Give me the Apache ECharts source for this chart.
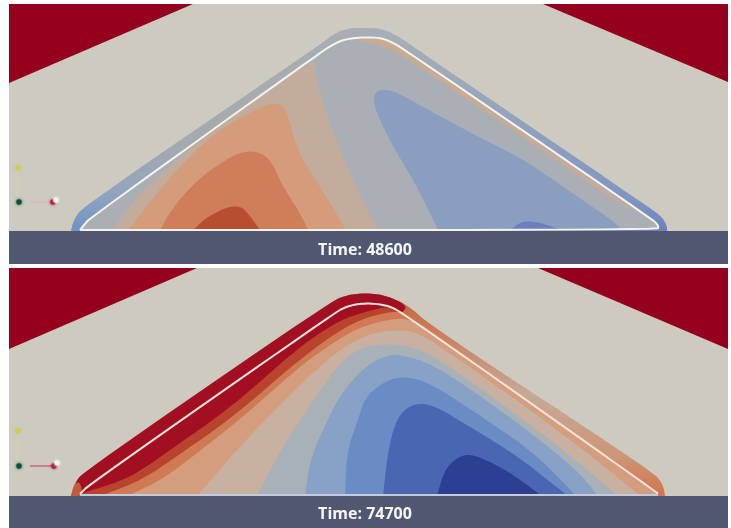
<!DOCTYPE html>
<html>
<head>
<meta charset="utf-8">
<style>
html,body{margin:0;padding:0;background:#fff}
#chart{width:731px;height:528px;filter:blur(0.65px)}
</style>
<script src="https://cdn.jsdelivr.net/npm/echarts@6/dist/echarts.min.js"></script>
</head>
<body>
<div id="chart"></div>
<script>
// ---- text ----
const timeLabels = ['Time: 48600', 'Time: 74700'];
const timeLabelPoints = [[365, 250], [365, 514]];

// ---- panel frames ----
const panel1Frame = [[9, 4], [728, 4], [728, 264], [9, 264]];
const panel2Frame = [[9, 268], [728, 268], [728, 528], [9, 528]];
const panel1Floor = [[9, 231], [728, 231], [728, 264], [9, 264]];
const panel2Floor = [[9, 496], [728, 496], [728, 528], [9, 528]];

// ---- panel 1 (Time 48600) ----
const p1RedLeft = [[9, 4], [193, 4], [9, 83]];
const p1RedRight = [[543, 4], [728, 4], [728, 82]];
const p1Outer = [[71, 231], [74, 219], [84, 206], [317, 47], [335, 33], [350, 28], [380, 28], [398, 36], [422, 53], [650, 208], [662, 217], [667, 226], [667, 231]];
const p1OuterLeft = [[71, 231], [74, 219], [84, 206], [317, 47], [335, 33], [350, 28], [365, 28], [365, 231]];
const p1OuterRight = [[365, 231], [365, 28], [380, 28], [398, 36], [422, 53], [650, 208], [662, 217], [667, 226], [667, 231]];
const p1Line = [[80, 230], [84, 225], [90, 218], [317, 55], [335, 43], [350, 38], [378, 37], [392, 42], [408, 52], [652, 219], [659, 226], [657, 230], [80, 230]];
const p1Tan = [[112, 230], [140, 192], [200, 140], [260, 97], [316, 57], [315, 73], [325, 110], [340, 150], [360, 195], [378, 230]];
const p1Salmon = [[128, 230], [167, 180], [213, 133], [262, 106], [277, 102], [287, 110], [297, 150], [317, 182], [333, 208], [346, 230]];
const p1Orange = [[160, 230], [173, 207], [200, 177], [233, 155], [253, 150], [270, 158], [283, 187], [300, 213], [308, 230]];
const p1Red = [[193, 230], [207, 217], [227, 207], [240, 206], [248, 213], [260, 230]];
const p1PeachStrip = [[352, 41], [378, 38], [392, 43], [408, 53], [648, 219], [610, 198], [520, 135], [410, 61], [392, 50], [375, 44]];
const p1Blue = [[438, 230], [418, 188], [392, 145], [376, 112], [373, 97], [378, 90], [390, 90], [402, 95], [465, 130], [525, 160], [572, 193], [612, 220], [622, 230]];
const p1DeepBlue = [[510, 230], [522, 221], [538, 222], [562, 230]];

// ---- panel 2 (Time 74700) ----
const p2RedLeft = [[9, 268], [197, 268], [9, 349]];
const p2RedRight = [[538, 268], [728, 268], [728, 349]];
const p2Outer = [[71, 496], [74, 483], [86, 470], [330, 302], [347, 295], [365, 293], [385, 295], [408, 305], [432, 327], [652, 471], [663, 484], [665, 496]];
const p2Crest = [[78, 496], [74, 483], [86, 470], [330, 302], [347, 295], [365, 293], [385, 295], [407, 305], [403, 313], [380, 320], [100, 496]];
const p2Tip = [[71, 496], [74, 485], [80, 481], [83, 496]];
const p2Level1 = [[80, 494], [133, 477], [167, 452], [233, 406], [300, 346], [340, 320], [365, 312], [388, 306], [403, 313], [420, 325], [655, 491], [658, 496]];
const p2Level2 = [[100, 496], [140, 481], [173, 459], [233, 417], [300, 359], [340, 330], [365, 318], [388, 312], [405, 312], [420, 325], [655, 491], [658, 496]];
const p2Level3 = [[127, 496], [160, 481], [200, 451], [250, 411], [300, 366], [340, 338], [365, 325], [398, 318], [412, 320], [428, 331], [655, 491], [658, 496]];
const p2Level4 = [[197, 496], [233, 454], [283, 401], [333, 354], [365, 335], [398, 329], [422, 334], [465, 364], [532, 411], [598, 461], [640, 496]];
const p2Level5 = [[257, 496], [280, 451], [310, 405], [340, 362], [365, 345], [398, 344], [425, 351], [465, 377], [515, 414], [565, 451], [618, 496]];
const p2Level6 = [[305, 496], [310, 460], [325, 425], [340, 395], [365, 366], [390, 354], [405, 356], [432, 364], [482, 397], [532, 434], [578, 471], [598, 496]];
const p2Level7 = [[345, 496], [347, 450], [358, 420], [365, 397], [385, 381], [405, 376], [432, 384], [482, 417], [532, 451], [572, 491], [575, 496]];
const p2Level8 = [[383, 496], [388, 450], [397, 417], [412, 404], [432, 404], [465, 424], [515, 454], [568, 496]];
const p2Level9 = [[437, 496], [445, 468], [462, 454], [478, 456], [508, 471], [542, 496]];
const p2Line = [[80, 494], [90, 484], [333, 314], [347, 306], [365, 303], [387, 305], [403, 313], [655, 491], [658, 494]];
const p2Base = [[80, 495], [658, 495]];

// ---- orientation glyphs ----
const axisStems = [[[18, 170], [18, 200]], [[30, 202], [50, 202]], [[18, 433], [18, 464]], [[30, 466], [54, 466]]];
const axisDots = [
  [18, 168, 'y'], [19, 202, 'g'], [53, 202, 'r'], [56, 200, 'w'],
  [18, 431, 'y'], [19, 466, 'g'], [54, 466, 'r'], [57, 463, 'w']
];

// ---- styles ----
const colours = { page: '#cdcabf', floor: '#525771', crimson: '#95001e' };
const V = (stops) => new echarts.graphic.LinearGradient(0, 0, 0, 1, stops.map((c) => ({ offset: c[0], color: c[1] })));
const dotColours = { y: '#c9cf55', g: '#10503a', r: '#b4173f', w: '#f3f3ee' };

const layers = [
  { pts: panel1Frame, fill: colours.page },
  { pts: p1RedLeft, fill: colours.crimson },
  { pts: p1RedRight, fill: colours.crimson },
  { pts: panel1Floor, fill: colours.floor },
  { pts: p1Outer, smooth: 1, fill: '#a9aeb4' },
  { pts: p1OuterLeft, smooth: 1, fill: V([[0, '#a9aeb4'], [0.55, '#a6aaac'], [0.8, '#93a5be'], [1, '#6f93c6']]) },
  { pts: p1OuterRight, smooth: 1, fill: V([[0, '#a9afb6'], [0.45, '#93a3be'], [0.85, '#8094c2'], [1, '#6c80c0']]) },
  { pts: p1Line, smooth: 1, fill: '#aaafb6' },
  { pts: p1Tan, smooth: 1, fill: '#c2ad9c' },
  { pts: p1Salmon, smooth: 1, fill: '#d49c7b' },
  { pts: p1Orange, smooth: 1, fill: '#cf7d5a' },
  { pts: p1Red, smooth: 1, fill: '#b84e31' },
  { pts: p1Blue, smooth: 1, fill: '#8a9fc0' },
  { pts: p1DeepBlue, smooth: 1, fill: '#6a80bd' },
  { pts: p1PeachStrip, smooth: 1, fill: '#c7ab94' },
  { pts: p1Line, smooth: 1, stroke: '#f6f3ea', width: 2 },

  { pts: panel2Frame, fill: colours.page },
  { pts: p2RedLeft, fill: colours.crimson },
  { pts: p2RedRight, fill: colours.crimson },
  { pts: panel2Floor, fill: colours.floor },
  { pts: p2Outer, smooth: 1, fill: V([[0, '#c4603c'], [0.2, '#cb7f5c'], [0.5, '#c6a997'], [0.8, '#cd9678'], [1, '#d0744c']]) },
  { pts: p2Crest, smooth: 1, fill: '#a30f22' },
  { pts: p2Tip, smooth: 1, fill: '#c25a3c' },
  { pts: p2Level1, smooth: 1, fill: '#b9442d' },
  { pts: p2Level2, smooth: 1, fill: '#cf7a55' },
  { pts: p2Level3, smooth: 1, fill: '#d49d7e' },
  { pts: p2Level4, smooth: 1, fill: '#c8b1a0' },
  { pts: p2Level5, smooth: 1, fill: '#a8b0b8' },
  { pts: p2Level6, smooth: 1, fill: '#87a1c7' },
  { pts: p2Level7, smooth: 1, fill: '#6a8bc3' },
  { pts: p2Level8, smooth: 1, fill: '#4a66b2' },
  { pts: p2Level9, smooth: 1, fill: '#2b4095' },
  { pts: p2Line, smooth: 1, stroke: '#f8e2d8', width: 2 },
  { pts: p2Base, stroke: '#c6cbdc', width: 2 }
];

function chaikin(points, rounds) {
  let out = points;
  for (let r = 0; r < rounds; r++) {
    const next = [out[0]];
    for (let i = 0; i < out.length - 1; i++) {
      const a = out[i], b = out[i + 1];
      next.push([a[0] * 0.75 + b[0] * 0.25, a[1] * 0.75 + b[1] * 0.25]);
      next.push([a[0] * 0.25 + b[0] * 0.75, a[1] * 0.25 + b[1] * 0.75]);
    }
    next.push(out[out.length - 1]);
    out = next;
  }
  return out;
}

const chart = echarts.init(document.getElementById('chart'));
chart.setOption({
  animation: false,
  backgroundColor: '#ffffff',
  grid: { left: 0, right: 0, top: 0, bottom: 0 },
  xAxis: { type: 'value', min: 0, max: 731, show: false },
  yAxis: { type: 'value', min: 0, max: 528, inverse: true, show: false },
  series: [
    {
      type: 'custom', silent: true, clip: false, coordinateSystem: 'cartesian2d',
      data: layers.map((l, i) => [i]),
      encode: { x: 0, y: 0 },
      renderItem: (params, api) => {
        const layer = layers[params.dataIndex];
        const src = layer.smooth ? chaikin(layer.pts, 3) : layer.pts;
        const pts = src.map((p) => api.coord(p));
        if (layer.stroke) {
          return { type: 'polyline', shape: { points: pts }, style: { fill: null, stroke: layer.stroke, lineWidth: layer.width } };
        }
        return { type: 'polygon', shape: { points: pts }, style: { fill: layer.fill } };
      }
    },
    {
      type: 'custom', silent: true, clip: false, coordinateSystem: 'cartesian2d', z: 3,
      data: axisStems.map((s, i) => [i]),
      encode: { x: 0, y: 0 },
      renderItem: (params, api) => {
        const i = params.dataIndex;
        const isRed = i % 2 === 1;
        return {
          type: 'polyline',
          shape: { points: axisStems[i].map((p) => api.coord(p)) },
          style: { fill: null, stroke: isRed ? (i === 3 ? '#c8536c' : '#dcb4b0') : '#d3d2a8', lineWidth: 1.2 }
        };
      }
    },
    {
      type: 'custom', silent: true, clip: false, coordinateSystem: 'cartesian2d', z: 4,
      data: axisDots.map((d) => [d[0], d[1]]),
      encode: { x: 0, y: 1 },
      renderItem: (params, api) => {
        const d = axisDots[params.dataIndex];
        const c = api.coord([d[0], d[1]]);
        return {
          type: 'circle',
          shape: { cx: c[0], cy: c[1], r: 2.7 },
          style: { fill: dotColours[d[2]], shadowBlur: 3, shadowColor: dotColours[d[2]] }
        };
      }
    },
    {
      type: 'custom', silent: false, clip: false, coordinateSystem: 'cartesian2d', z: 5,
      data: timeLabelPoints,
      encode: { x: 0, y: 1 },
      renderItem: (params, api) => {
        const c = api.coord(timeLabelPoints[params.dataIndex]);
        return {
          type: 'text', x: c[0], y: c[1],
          style: {
            text: timeLabels[params.dataIndex],
            fill: '#f6f6f6',
            font: '700 16px "Open Sans"',
            textAlign: 'center', textVerticalAlign: 'middle'
          }
        };
      }
    }
  ]
});
</script>
</body>
</html>
